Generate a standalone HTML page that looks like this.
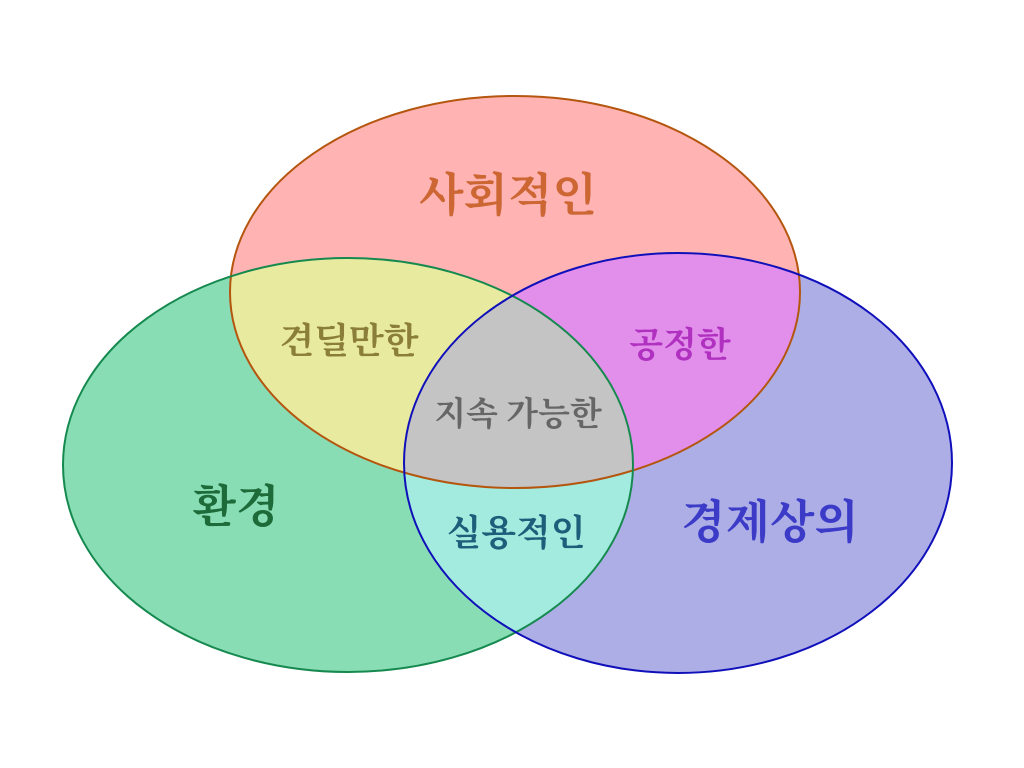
<!DOCTYPE html>
<html><head><meta charset="utf-8"><style>
html,body{margin:0;padding:0;background:#fff;}
svg{display:block;}
text{font-family:"Liberation Serif","Noto Serif CJK SC","Noto Serif CJK KR",serif;font-weight:bold;text-anchor:middle;}
</style></head><body>
<svg width="1024" height="768" viewBox="0 0 1024 768" xmlns="http://www.w3.org/2000/svg">
<defs>
<clipPath id="cR"><ellipse cx="515" cy="292" rx="285" ry="196"/></clipPath>
<clipPath id="cG"><ellipse cx="348" cy="465" rx="285" ry="207"/></clipPath>
<clipPath id="cB"><ellipse cx="678" cy="463" rx="274" ry="210"/></clipPath>
</defs>
<ellipse cx="515" cy="292" rx="285" ry="196" fill="#FFB3B3"/>
<ellipse cx="348" cy="465" rx="285" ry="207" fill="#88DDB5"/>
<ellipse cx="678" cy="463" rx="274" ry="210" fill="#ADAEE6"/>
<g clip-path="url(#cR)">
<ellipse cx="348" cy="465" rx="285" ry="207" fill="#E8EAA0"/>
<ellipse cx="678" cy="463" rx="274" ry="210" fill="#E28FEB"/>
</g>
<g clip-path="url(#cG)">
<ellipse cx="678" cy="463" rx="274" ry="210" fill="#A3EBDF"/>
<g clip-path="url(#cR)"><ellipse cx="678" cy="463" rx="274" ry="210" fill="#C4C4C4"/></g>
</g>
<ellipse cx="515" cy="292" rx="285" ry="196" fill="none" stroke="#B5560F" stroke-width="2"/>
<ellipse cx="348" cy="465" rx="285" ry="207" fill="none" stroke="#16894F" stroke-width="2"/>
<ellipse cx="678" cy="463" rx="274" ry="210" fill="none" stroke="#1010BB" stroke-width="2"/>
<text x="508" y="211" font-size="46" fill="#CC6633">사회적인</text>
<text x="236" y="522" font-size="45" fill="#1E6B3A">환경</text>
<text x="770" y="538" font-size="46" fill="#3B3BC8">경제상의</text>
<text x="349" y="353" font-size="36" fill="#8B7D3A">견딜만한</text>
<text x="680" y="357" font-size="35" fill="#B030C0">공정한</text>
<text x="518" y="425" font-size="33" fill="#666">지속 가능한</text>
<text x="516" y="545" font-size="36" fill="#1D5F7A">실용적인</text>
</svg>
</body></html>
